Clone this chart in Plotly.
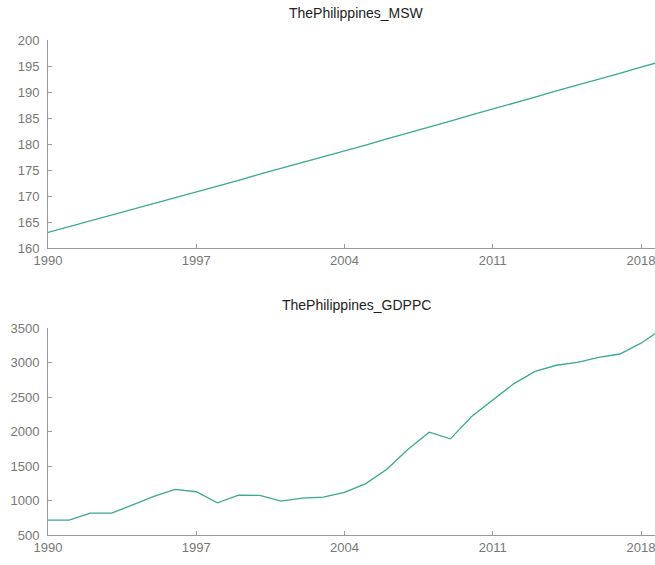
import plotly.graph_objects as go

years = list(range(1990, 2020))
msw = [163.0, 164.1, 165.2, 166.3, 167.4, 168.5, 169.7, 170.8, 171.9, 173.0,
       174.2, 175.3, 176.4, 177.6, 178.7, 179.8, 181.0, 182.1, 183.3, 184.4,
       185.6, 186.7, 187.9, 189.0, 190.2, 191.3, 192.5, 193.6, 194.8, 195.9]
gdppc = [715, 716, 817, 818, 936, 1061, 1160, 1127, 967, 1077,
         1073, 990, 1033, 1049, 1118, 1244, 1453, 1743, 1991, 1893,
         2217, 2450, 2694, 2871, 2960, 3001, 3074, 3123, 3280, 3485]
x_ticks = [1990, 1997, 2004, 2011, 2018]
titles = ["ThePhilippines_MSW", "ThePhilippines_GDPPC"]

W, H = 655, 565
line_color = "#3aa896"
axis_color = "#9a9a9a"
font_family = "Liberation Sans, Arial, sans-serif"
tick_font = dict(size=13, color="#777777", family=font_family)

fig = go.Figure()
fig.add_trace(go.Scatter(x=years, y=msw, mode="lines",
                         line=dict(color=line_color, width=1.3),
                         xaxis="x", yaxis="y", showlegend=False))
fig.add_trace(go.Scatter(x=years, y=gdppc, mode="lines",
                         line=dict(color=line_color, width=1.3),
                         xaxis="x2", yaxis="y2", showlegend=False))

def dom(top_px, bottom_px):
    return [1 - bottom_px / H, 1 - top_px / H]

common_x = dict(range=[1990, 2018.66], tickvals=x_ticks, ticks="inside", ticklen=4,
                tickcolor=axis_color, showline=True, linecolor=axis_color, linewidth=1,
                showgrid=False, zeroline=False, automargin=False,
                ticklabeloverflow="allow", ticklabelstandoff=0, tickfont=tick_font)
common_y = dict(ticks="inside", ticklen=4, tickcolor=axis_color, showline=True,
                linecolor=axis_color, linewidth=1, showgrid=False, zeroline=False,
                automargin=False, ticklabelstandoff=5, tickfont=tick_font)

fig.update_layout(
    width=W, height=H,
    margin=dict(l=48, r=0, t=0, b=0),
    plot_bgcolor="white", paper_bgcolor="white",
    xaxis=dict(domain=[0, 1], anchor="y", **common_x),
    yaxis=dict(domain=dom(40, 248), range=[160, 200], dtick=5, anchor="x", **common_y),
    xaxis2=dict(domain=[0, 1], anchor="y2", **common_x),
    yaxis2=dict(domain=dom(328, 535), range=[500, 3500], dtick=500, anchor="x2", **common_y),
)

for t, ypx in zip(titles, [13, 305]):
    fig.add_annotation(text=t, xref="paper", yref="paper",
                       x=(356 - 48) / (W - 48), y=1 - ypx / H,
                       showarrow=False, xanchor="center", yanchor="middle",
                       font=dict(size=14, color="#222222", family=font_family))

fig.write_html("out.html", config={"displayModeBar": False},
               post_script="document.body.style.margin='0';document.body.style.overflow='hidden';")
